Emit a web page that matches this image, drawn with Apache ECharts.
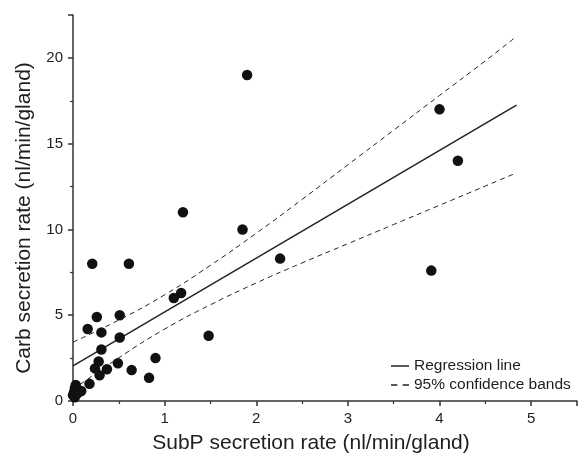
<!DOCTYPE html>
<html>
<head>
<meta charset="utf-8">
<script src="https://cdn.jsdelivr.net/npm/echarts@6/dist/echarts.min.js"></script>
<style>
  html, body { margin: 0; padding: 0; background: #fff; }
  #chart { width: 578px; height: 456px; }
</style>
</head>
<body>
<div id="chart"></div>
<script>
// measured points: [SubP, Carb]
const points = [
  [1.90, 19.0], [1.20, 11.0], [4.00, 17.0], [4.20, 14.0], [1.85, 10.0],
  [2.26, 8.3], [3.91, 7.6], [0.21, 8.0], [0.61, 8.0], [1.10, 6.0],
  [1.18, 6.3], [0.26, 4.9], [0.51, 5.0], [0.16, 4.2], [0.31, 4.0],
  [0.51, 3.7], [1.48, 3.8], [0.31, 3.0], [0.90, 2.5], [0.28, 2.3],
  [0.24, 1.9], [0.37, 1.85], [0.49, 2.2], [0.64, 1.8], [0.29, 1.5],
  [0.83, 1.35], [0.18, 1.0], [0.09, 0.58], [0.03, 0.93], [0.02, 0.75],
  [0.01, 0.5], [0.0, 0.33], [0.02, 0.22], [0.05, 0.45]
]

// regression line endpoints
const regLine = [[0, 2.05], [4.84, 17.25]]

// confidence bands
const bandX = [0, 0.5, 1, 1.5, 2, 2.5, 3, 3.5, 4, 4.5, 4.84]
const upperBand = [3.43, 4.72, 6.19, 7.91, 9.78, 11.75, 13.77, 15.79, 17.81, 19.83, 21.25]
const lowerBand = [0.67, 2.52, 4.19, 5.61, 6.88, 8.05, 9.17, 10.29, 11.41, 12.53, 13.3]

const xTitle = 'SubP secretion rate (nl/min/gland)'
const yTitle = 'Carb secretion rate (nl/min/gland)'

const font = 'Liberation Sans, Arial, Helvetica, sans-serif'
const ink = '#1e1e1e'

const chart = echarts.init(document.getElementById('chart'))

const axisCommon = {
  axisLine: { show: true, onZero: false, lineStyle: { color: '#333', width: 1.5 } },
  axisTick: { show: true, inside: false, length: 5, lineStyle: { color: '#333', width: 1.5 } },
  minorTick: { show: true, splitNumber: 2, length: 3, lineStyle: { color: '#333', width: 1.2 } },
  splitLine: { show: false },
  axisLabel: { color: ink, fontSize: 15, fontFamily: font, showMaxLabel: false, margin: 10 },
  nameLocation: 'middle'
}

const bandStyle = { color: '#222', width: 1, type: [5, 4] }

const option = {
  animation: false,
  backgroundColor: '#fff',
  grid: { left: 73, right: 1, top: 15, bottom: 55, outerBoundsMode: 'none' },
  legend: {
    orient: 'vertical',
    left: 386,
    top: 353,
    itemWidth: 18,
    itemHeight: 1.5,
    symbolKeepAspect: false,
    itemGap: 3,
    textStyle: { color: ink, fontSize: 15.5, lineHeight: 16, fontFamily: font },
    data: [
      { name: 'Regression line', icon: 'path://M0,0h18v1h-18z' },
      { name: '95% confidence bands', icon: 'path://M0,0h6v1h-6zM11,0h6v1h-6z' }
    ]
  },
  xAxis: Object.assign({}, axisCommon, {
    type: 'value',
    min: 0,
    max: 5.5,
    interval: 1,
    name: xTitle,
    nameGap: 32,
    nameTextStyle: { color: ink, fontSize: 21, fontFamily: font, padding: [0, 28, 0, 0] }
  }),
  yAxis: Object.assign({}, axisCommon, {
    type: 'value',
    min: 0,
    max: 22.5,
    interval: 5,
    name: yTitle,
    nameGap: 38,
    nameTextStyle: { color: ink, fontSize: 21, fontFamily: font, padding: [0, 20, 0, 0] }
  }),
  series: [
    {
      name: 'data',
      type: 'scatter',
      data: points,
      symbol: 'circle',
      symbolSize: 10.5,
      itemStyle: { color: '#111', opacity: 1 },
      z: 5
    },
    {
      name: 'Regression line',
      type: 'line',
      data: regLine,
      symbol: 'none',
      lineStyle: { color: '#222', width: 1.5 },
      itemStyle: { color: '#222' }
    },
    {
      name: '95% confidence bands',
      type: 'line',
      smooth: true,
      data: bandX.map((x, i) => [x, upperBand[i]]),
      symbol: 'none',
      lineStyle: bandStyle,
      itemStyle: { color: '#222' }
    },
    {
      name: '95% confidence bands',
      type: 'line',
      smooth: true,
      data: bandX.map((x, i) => [x, lowerBand[i]]),
      symbol: 'none',
      lineStyle: bandStyle,
      itemStyle: { color: '#222' }
    }
  ]
}

chart.setOption(option)
</script>
</body>
</html>
